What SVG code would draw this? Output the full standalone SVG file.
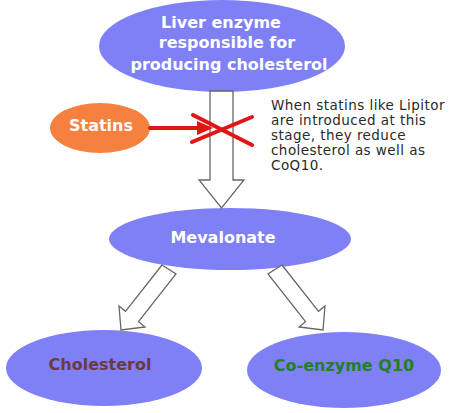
<svg xmlns="http://www.w3.org/2000/svg" width="450" height="413" viewBox="0 0 450 413">
<style>
.node{fill:#7f7ff6}
.lbl{font-family:"DejaVu Sans",Verdana,sans-serif;font-weight:bold;font-size:16px;fill:#ffffff;text-anchor:middle}
.arr{fill:#ffffff;stroke:#666666;stroke-width:1.3;stroke-linejoin:miter}
.note{font-family:"DejaVu Sans",Verdana,sans-serif;font-size:13.5px;letter-spacing:0.45px;fill:#2a2a2a}
.red{stroke:#e31414;stroke-width:4;fill:none;stroke-linecap:round}
</style>
<rect width="450" height="413" fill="#ffffff"/>
<g id="enzyme">
<ellipse class="node" cx="222" cy="46" rx="123" ry="46"/>
<text class="lbl" x="221" y="28">Liver enzyme</text>
<text class="lbl" x="227" y="48">responsible for</text>
<text class="lbl" x="229" y="70">producing cholesterol</text>
</g>
<g id="statins">
<ellipse cx="100" cy="128" rx="50" ry="25" fill="#f6803d"/>
<text class="lbl" x="101" y="131">Statins</text>
</g>
<g id="mevalonate">
<ellipse class="node" cx="230" cy="239" rx="121" ry="31"/>
<text class="lbl" x="223" y="243">Mevalonate</text>
</g>
<g id="cholesterol">
<ellipse class="node" cx="104" cy="368" rx="98" ry="38"/>
<text class="lbl" x="100" y="370" style="fill:#6b3a42">Cholesterol</text>
</g>
<g id="coq10">
<ellipse class="node" cx="344" cy="370" rx="97" ry="38"/>
<text class="lbl" x="344" y="371" style="fill:#238023">Co-enzyme Q10</text>
</g>
<g id="note">
<text class="note" x="271" y="110">When statins like Lipitor</text>
<text class="note" x="271" y="125">are introduced at this</text>
<text class="note" x="271" y="140">stage, they reduce</text>
<text class="note" x="271" y="155">cholesterol as well as</text>
<text class="note" x="271" y="170">CoQ10.</text>
</g>
<g id="connectors">
<polygon class="arr" points="210,91 210,180 199,180 221.5,208 244,180 233,180 233,91"/>
<polygon class="arr" points="162,265 125.5,311.3 119,306 121,330 145,327 138.5,321.7 176,274"/>
<polygon class="arr" points="282,265 318.5,311.3 325,306 323,330 299,327 305.5,321.7 268,274"/>
<line class="red" x1="150" y1="128" x2="200" y2="128" stroke-linecap="butt"/>
<polygon points="197,121 213,128 197,135" fill="#e31414"/>
<line class="red" x1="193" y1="115" x2="252" y2="145"/>
<line class="red" x1="192" y1="142" x2="252" y2="117"/>
</g>
</svg>
